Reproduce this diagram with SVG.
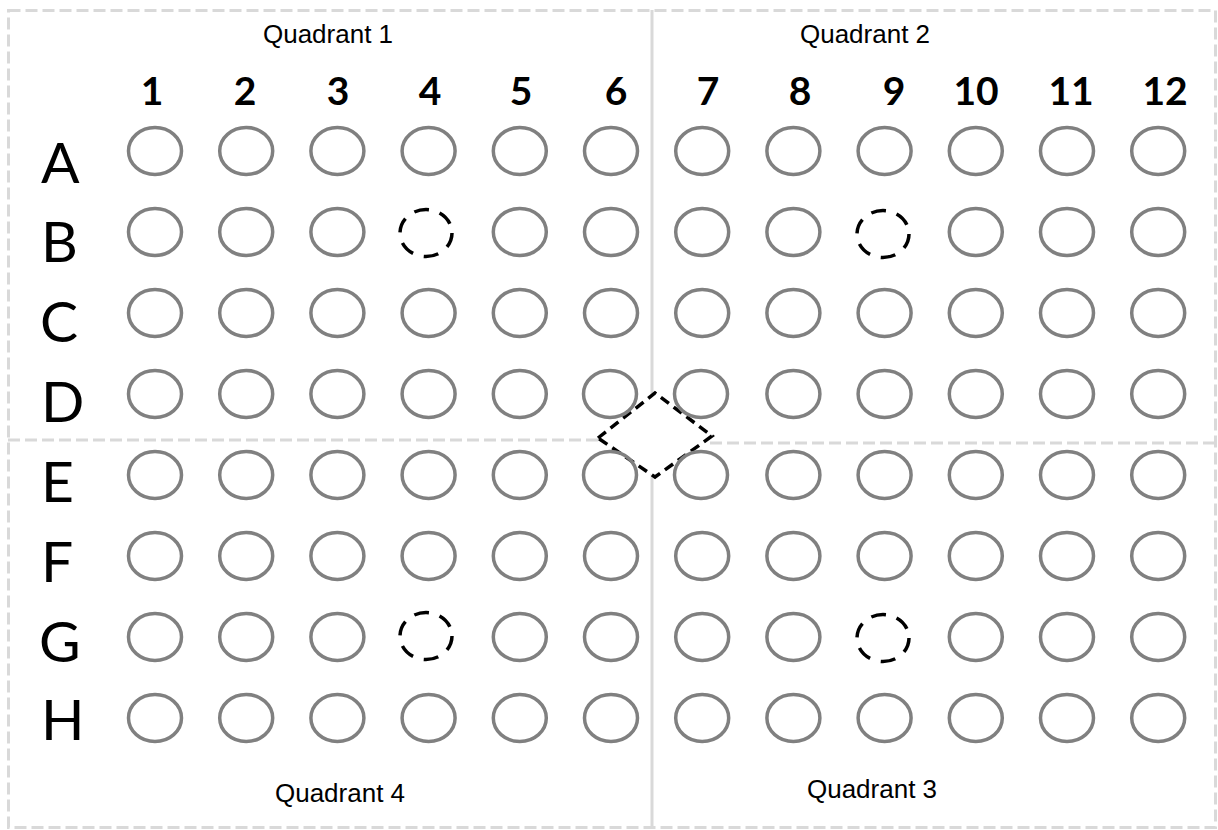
<svg xmlns="http://www.w3.org/2000/svg" width="1218" height="830" viewBox="0 0 1218 830">
<style>
.bg{fill:#ffffff}
.frame{fill:none;stroke:#d9d9d9;stroke-width:3;stroke-dasharray:12 5}
.split{fill:none;stroke:#d9d9d9;stroke-width:3}
.splitd{fill:none;stroke:#d9d9d9;stroke-width:3;stroke-dasharray:12 5}
.well{fill:none;stroke:#808080;stroke-width:3.5}
.mark{fill:none;stroke:#000000;stroke-width:3.5;stroke-dasharray:15 11}
.diamond{fill:#ffffff;stroke:#000000;stroke-width:3.5;stroke-dasharray:10 6}
.quad{font-family:"Liberation Sans",Arial,sans-serif;font-size:26px;fill:#000000;text-anchor:middle}
.col{font-family:Lato,"Open Sans",sans-serif;font-size:39px;font-weight:bold;fill:#000000;text-anchor:middle}
.row{font-family:Lato,"Open Sans",sans-serif;font-size:57px;fill:#000000}
</style>
<rect class="bg" x="0" y="0" width="1218" height="830"/>
<g id="plate-frame">
<rect class="frame" x="8.5" y="10.5" width="1207" height="817"/>
<line class="split" x1="652" y1="10" x2="652" y2="828"/>
<line class="splitd" x1="8" y1="440" x2="600" y2="440"/>
<line class="splitd" x1="710" y1="443" x2="1216" y2="443"/>
</g>
<g id="quadrant-labels">
<text class="quad" x="328" y="43">Quadrant 1</text>
<text class="quad" x="865" y="43">Quadrant 2</text>
<text class="quad" x="872" y="798">Quadrant 3</text>
<text class="quad" x="340" y="802">Quadrant 4</text>
</g>
<g id="column-labels">
<text class="col" x="152" y="105">1</text>
<text class="col" x="245" y="105">2</text>
<text class="col" x="338" y="105">3</text>
<text class="col" x="430" y="105">4</text>
<text class="col" x="521" y="105">5</text>
<text class="col" x="616" y="105">6</text>
<text class="col" x="708" y="105">7</text>
<text class="col" x="800" y="105">8</text>
<text class="col" x="894" y="105">9</text>
<text class="col" x="976" y="105">10</text>
<text class="col" x="1071" y="105">11</text>
<text class="col" x="1165" y="105">12</text>
</g>
<g id="row-labels">
<text class="row" x="41" y="183">A</text>
<text class="row" x="41" y="262">B</text>
<text class="row" x="40" y="342">C</text>
<text class="row" x="41" y="422">D</text>
<text class="row" x="41" y="502">E</text>
<text class="row" x="41" y="582">F</text>
<text class="row" x="39" y="662">G</text>
<text class="row" x="41" y="740">H</text>
</g>
<g id="center-diamond">
<polygon class="diamond" points="598,438 655,393 712,436 655,477"/>
</g>
<g id="wells">
<g id="row-A">
<ellipse class="well" cx="155" cy="151" rx="26.5" ry="23.5"/>
<ellipse class="well" cx="246.2" cy="151" rx="26.5" ry="23.5"/>
<ellipse class="well" cx="337.4" cy="151" rx="26.5" ry="23.5"/>
<ellipse class="well" cx="428.6" cy="151" rx="26.5" ry="23.5"/>
<ellipse class="well" cx="519.8" cy="151" rx="26.5" ry="23.5"/>
<ellipse class="well" cx="611" cy="151" rx="26.5" ry="23.5"/>
<ellipse class="well" cx="702.2" cy="151" rx="26.5" ry="23.5"/>
<ellipse class="well" cx="793.4" cy="151" rx="26.5" ry="23.5"/>
<ellipse class="well" cx="884.6" cy="151" rx="26.5" ry="23.5"/>
<ellipse class="well" cx="975.8" cy="151" rx="26.5" ry="23.5"/>
<ellipse class="well" cx="1067" cy="151" rx="26.5" ry="23.5"/>
<ellipse class="well" cx="1158.2" cy="151" rx="26.5" ry="23.5"/>
</g>
<g id="row-B">
<ellipse class="well" cx="155" cy="232" rx="26.5" ry="23.5"/>
<ellipse class="well" cx="246.2" cy="232" rx="26.5" ry="23.5"/>
<ellipse class="well" cx="337.4" cy="232" rx="26.5" ry="23.5"/>
<ellipse class="mark" cx="426" cy="233" rx="26" ry="23.5"/>
<ellipse class="well" cx="519.8" cy="232" rx="26.5" ry="23.5"/>
<ellipse class="well" cx="611" cy="232" rx="26.5" ry="23.5"/>
<ellipse class="well" cx="702.2" cy="232" rx="26.5" ry="23.5"/>
<ellipse class="well" cx="793.4" cy="232" rx="26.5" ry="23.5"/>
<ellipse class="mark" cx="883" cy="234" rx="26" ry="23.5"/>
<ellipse class="well" cx="975.8" cy="232" rx="26.5" ry="23.5"/>
<ellipse class="well" cx="1067" cy="232" rx="26.5" ry="23.5"/>
<ellipse class="well" cx="1158.2" cy="232" rx="26.5" ry="23.5"/>
</g>
<g id="row-C">
<ellipse class="well" cx="155" cy="313" rx="26.5" ry="23.5"/>
<ellipse class="well" cx="246.2" cy="313" rx="26.5" ry="23.5"/>
<ellipse class="well" cx="337.4" cy="313" rx="26.5" ry="23.5"/>
<ellipse class="well" cx="428.6" cy="313" rx="26.5" ry="23.5"/>
<ellipse class="well" cx="519.8" cy="313" rx="26.5" ry="23.5"/>
<ellipse class="well" cx="611" cy="313" rx="26.5" ry="23.5"/>
<ellipse class="well" cx="702.2" cy="313" rx="26.5" ry="23.5"/>
<ellipse class="well" cx="793.4" cy="313" rx="26.5" ry="23.5"/>
<ellipse class="well" cx="884.6" cy="313" rx="26.5" ry="23.5"/>
<ellipse class="well" cx="975.8" cy="313" rx="26.5" ry="23.5"/>
<ellipse class="well" cx="1067" cy="313" rx="26.5" ry="23.5"/>
<ellipse class="well" cx="1158.2" cy="313" rx="26.5" ry="23.5"/>
</g>
<g id="row-D">
<ellipse class="well" cx="155" cy="394" rx="26.5" ry="23.5"/>
<ellipse class="well" cx="246.2" cy="394" rx="26.5" ry="23.5"/>
<ellipse class="well" cx="337.4" cy="394" rx="26.5" ry="23.5"/>
<ellipse class="well" cx="428.6" cy="394" rx="26.5" ry="23.5"/>
<ellipse class="well" cx="519.8" cy="394" rx="26.5" ry="23.5"/>
<ellipse class="well" cx="610" cy="394" rx="26.5" ry="23.5"/>
<ellipse class="well" cx="701" cy="394" rx="26.5" ry="23.5"/>
<ellipse class="well" cx="793.4" cy="394" rx="26.5" ry="23.5"/>
<ellipse class="well" cx="884.6" cy="394" rx="26.5" ry="23.5"/>
<ellipse class="well" cx="975.8" cy="394" rx="26.5" ry="23.5"/>
<ellipse class="well" cx="1067" cy="394" rx="26.5" ry="23.5"/>
<ellipse class="well" cx="1158.2" cy="394" rx="26.5" ry="23.5"/>
</g>
<g id="row-E">
<ellipse class="well" cx="155" cy="475" rx="26.5" ry="23.5"/>
<ellipse class="well" cx="246.2" cy="475" rx="26.5" ry="23.5"/>
<ellipse class="well" cx="337.4" cy="475" rx="26.5" ry="23.5"/>
<ellipse class="well" cx="428.6" cy="475" rx="26.5" ry="23.5"/>
<ellipse class="well" cx="519.8" cy="475" rx="26.5" ry="23.5"/>
<ellipse class="well" cx="610" cy="475" rx="26.5" ry="23.5"/>
<ellipse class="well" cx="701" cy="475" rx="26.5" ry="23.5"/>
<ellipse class="well" cx="793.4" cy="475" rx="26.5" ry="23.5"/>
<ellipse class="well" cx="884.6" cy="475" rx="26.5" ry="23.5"/>
<ellipse class="well" cx="975.8" cy="475" rx="26.5" ry="23.5"/>
<ellipse class="well" cx="1067" cy="475" rx="26.5" ry="23.5"/>
<ellipse class="well" cx="1158.2" cy="475" rx="26.5" ry="23.5"/>
</g>
<g id="row-F">
<ellipse class="well" cx="155" cy="556" rx="26.5" ry="23.5"/>
<ellipse class="well" cx="246.2" cy="556" rx="26.5" ry="23.5"/>
<ellipse class="well" cx="337.4" cy="556" rx="26.5" ry="23.5"/>
<ellipse class="well" cx="428.6" cy="556" rx="26.5" ry="23.5"/>
<ellipse class="well" cx="519.8" cy="556" rx="26.5" ry="23.5"/>
<ellipse class="well" cx="611" cy="556" rx="26.5" ry="23.5"/>
<ellipse class="well" cx="702.2" cy="556" rx="26.5" ry="23.5"/>
<ellipse class="well" cx="793.4" cy="556" rx="26.5" ry="23.5"/>
<ellipse class="well" cx="884.6" cy="556" rx="26.5" ry="23.5"/>
<ellipse class="well" cx="975.8" cy="556" rx="26.5" ry="23.5"/>
<ellipse class="well" cx="1067" cy="556" rx="26.5" ry="23.5"/>
<ellipse class="well" cx="1158.2" cy="556" rx="26.5" ry="23.5"/>
</g>
<g id="row-G">
<ellipse class="well" cx="155" cy="637" rx="26.5" ry="23.5"/>
<ellipse class="well" cx="246.2" cy="637" rx="26.5" ry="23.5"/>
<ellipse class="well" cx="337.4" cy="637" rx="26.5" ry="23.5"/>
<ellipse class="mark" cx="426" cy="636" rx="26" ry="23.5"/>
<ellipse class="well" cx="519.8" cy="637" rx="26.5" ry="23.5"/>
<ellipse class="well" cx="611" cy="637" rx="26.5" ry="23.5"/>
<ellipse class="well" cx="702.2" cy="637" rx="26.5" ry="23.5"/>
<ellipse class="well" cx="793.4" cy="637" rx="26.5" ry="23.5"/>
<ellipse class="mark" cx="883" cy="638" rx="26" ry="23.5"/>
<ellipse class="well" cx="975.8" cy="637" rx="26.5" ry="23.5"/>
<ellipse class="well" cx="1067" cy="637" rx="26.5" ry="23.5"/>
<ellipse class="well" cx="1158.2" cy="637" rx="26.5" ry="23.5"/>
</g>
<g id="row-H">
<ellipse class="well" cx="155" cy="718" rx="26.5" ry="23.5"/>
<ellipse class="well" cx="246.2" cy="718" rx="26.5" ry="23.5"/>
<ellipse class="well" cx="337.4" cy="718" rx="26.5" ry="23.5"/>
<ellipse class="well" cx="428.6" cy="718" rx="26.5" ry="23.5"/>
<ellipse class="well" cx="519.8" cy="718" rx="26.5" ry="23.5"/>
<ellipse class="well" cx="611" cy="718" rx="26.5" ry="23.5"/>
<ellipse class="well" cx="702.2" cy="718" rx="26.5" ry="23.5"/>
<ellipse class="well" cx="793.4" cy="718" rx="26.5" ry="23.5"/>
<ellipse class="well" cx="884.6" cy="718" rx="26.5" ry="23.5"/>
<ellipse class="well" cx="975.8" cy="718" rx="26.5" ry="23.5"/>
<ellipse class="well" cx="1067" cy="718" rx="26.5" ry="23.5"/>
<ellipse class="well" cx="1158.2" cy="718" rx="26.5" ry="23.5"/>
</g>
</g>
</svg>
